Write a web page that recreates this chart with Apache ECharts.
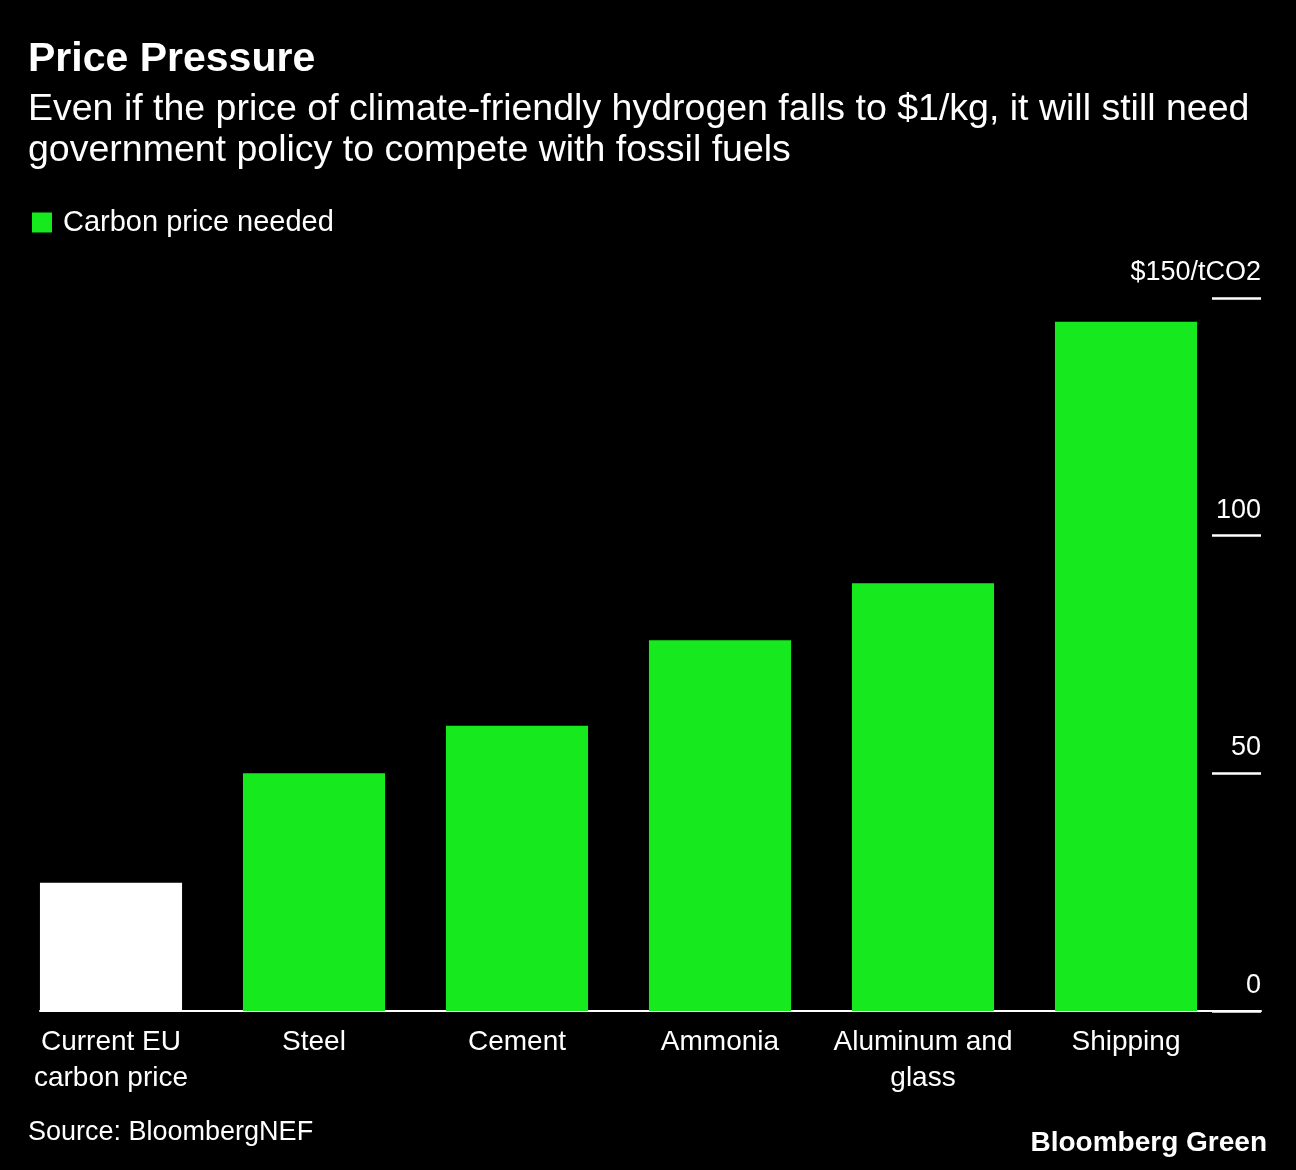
<!DOCTYPE html>
<html>
<head>
<meta charset="utf-8">
<script src="https://cdn.jsdelivr.net/npm/echarts@6/dist/echarts.min.js"></script>
<style>
html,body{margin:0;padding:0;background:#000;}
#c{width:1296px;height:1170px;}
</style>
</head>
<body>
<div id="c"></div>
<script>
const categories = ['Current EU\ncarbon price', 'Steel', 'Cement', 'Ammonia', 'Aluminum and\nglass', 'Shipping'];
const carbonPrice = [27, 50, 60, 78, 90, 145];
const yTicks = [0, 50, 100, 150];
const seriesName = 'Carbon price needed';
const FONT = "'Liberation Sans', Arial, Helvetica, sans-serif";
const GREEN = '#16EA1E';

const chart = echarts.init(document.getElementById('c'), null, {renderer: 'canvas'});
chart.setOption({
  backgroundColor: '#000000',
  animation: false,
  textStyle: {fontFamily: FONT},
  title: [
    {text: 'Price Pressure', left: 28, top: 39, padding: 0,
     textStyle: {color: '#fff', fontSize: 41, fontWeight: 'bold', fontFamily: FONT, lineHeight: 41}},
    {text: 'Even if the price of climate-friendly hydrogen falls to $1/kg, it will still need\ngovernment policy to compete with fossil fuels', left: 28, top: 89, padding: 0,
     textStyle: {color: '#fff', fontSize: 37.5, fontWeight: 'normal', fontFamily: FONT, lineHeight: 41}},
    {text: 'Source: BloombergNEF', left: 28, top: 1119, padding: 0,
     textStyle: {color: '#fff', fontSize: 27, fontWeight: 'normal', fontFamily: FONT, lineHeight: 27}},
    {text: 'Bloomberg Green', right: 29, top: 1129, padding: 0,
     textStyle: {color: '#fff', fontSize: 28, fontWeight: 'bold', fontFamily: FONT, lineHeight: 28}}
  ],
  legend: {
    left: 32, top: 208, padding: 0, itemWidth: 20, itemHeight: 20, icon: 'rect',
    data: [seriesName],
    textStyle: {color: '#fff', fontSize: 29, fontFamily: FONT, padding: [0, 0, 0, 6]}
  },
  grid: [
    {left: 9.5, width: 1218, top: 298, bottom: 159},
    {left: 40, right: 35, top: 298, bottom: 159}
  ],
  xAxis: [
    {type: 'category', gridIndex: 0, data: categories,
     axisLine: {show: false}, axisTick: {show: false},
     axisLabel: {color: '#fff', fontSize: 28, fontFamily: FONT, lineHeight: 36, margin: 13, interval: 0}},
    {type: 'value', gridIndex: 1, min: 0, max: 1,
     axisLine: {show: true, onZero: false, lineStyle: {color: '#fff', width: 2}},
     axisTick: {show: false}, axisLabel: {show: false}, splitLine: {show: false}}
  ],
  yAxis: [
    {type: 'value', gridIndex: 0, min: 0, max: 150, interval: 50,
     axisLine: {show: false, onZero: false}, axisTick: {show: false}, axisLabel: {show: false}, splitLine: {show: false}},
    {type: 'value', gridIndex: 1, position: 'right', offset: -49, min: 0, max: 150, interval: 50,
     axisLine: {show: false, onZero: false},
     axisTick: {show: true, inside: false, length: 49, lineStyle: {color: '#fff', width: 2.5}},
     splitLine: {show: false},
     axisLabel: {show: true, inside: false, margin: 49, align: 'right', color: '#fff', fontSize: 27, fontFamily: FONT,
       verticalAlign: 'bottom', padding: [0, 0, 12, 0],
       formatter: function (v) { return yTicks.indexOf(v) === yTicks.length - 1 ? '$' + v + '/tCO2' : String(v); }}}
  ],
  series: [{
    name: seriesName, type: 'bar', xAxisIndex: 0, yAxisIndex: 0,
    barCategoryGap: '30%',
    itemStyle: {color: GREEN},
    data: carbonPrice.map(function (v, i) {
      return i === 0 ? {value: v, itemStyle: {color: '#ffffff'}} : v;
    })
  }]
});
</script>
</body>
</html>
